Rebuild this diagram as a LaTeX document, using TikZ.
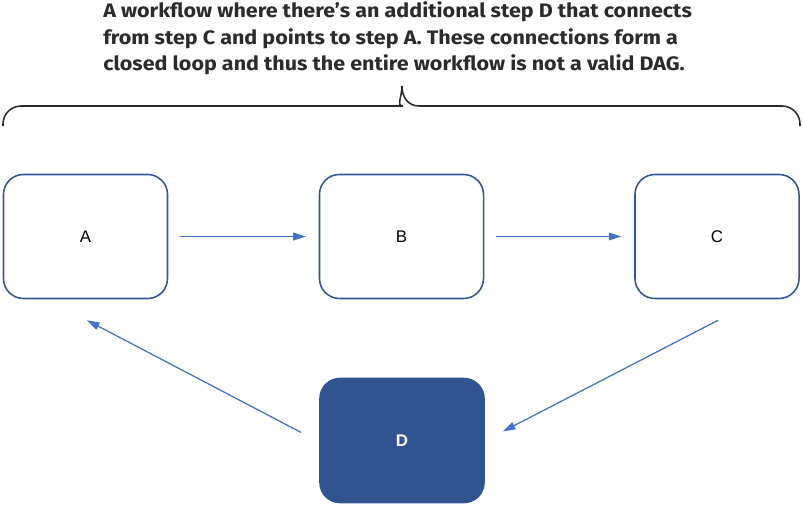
\documentclass[tikz,border=0pt]{standalone}
\usepackage{fontspec}
\setmainfont{Liberation Sans}
\newfontfamily\notefont[FakeStretch=1.1]{Fira Sans}
\usepackage{tikz}
\usetikzlibrary{arrows.meta}
\definecolor{stepline}{HTML}{2F5597}
\definecolor{flowblue}{HTML}{4472C4}
\definecolor{stepfill}{HTML}{30558E}
\definecolor{bracegray}{HTML}{2B2B2B}

\begin{document}
\begin{tikzpicture}[x=0.025cm,y=-0.025cm,
    stepbox/.style={draw=stepline,line width=1.1pt,rounded corners=0.5cm,minimum width=4.1cm,minimum height=3.1cm,font=\fontsize{12}{14}\selectfont},
    flow/.style={draw=flowblue,line width=0.9pt,-{Triangle[length=9pt,width=5.5pt]}},
    note/.style={align=left,inner sep=0pt,text=bracegray,font=\notefont\bfseries\fontsize{13.9}{18.9}\selectfont}]
    \useasboundingbox (0,0) rectangle (803,506);
    \node[note,anchor=north west] (title) at (103,1.5) {A workflow where there’s an additional step D that connects\\from step C and points to step A. These connections form a\\closed loop and thus the entire workflow is not a valid DAG.};
    \draw[bracegray,line width=1.1pt] (3,126) [rounded corners=0.45cm] |- (385,106) [sharp corners] .. controls (396,106) and (402,97) .. (402,86) .. controls (402,97) and (408,106) .. (419,106) [rounded corners=0.45cm] -| (800,126);
    \node[stepbox] (A) at (85.5,236.5) {A};
    \node[stepbox] (B) at (401.5,236.5) {B};
    \node[stepbox] (C) at (717,236.5) {C};
    \node[stepbox,fill=stepfill,text=white,font=\bfseries\fontsize{12}{14}\selectfont] (D) at (402,440.5) {D};
    \draw[flow,shorten <=0.3cm,shorten >=0.32cm] (A) -- (B);
    \draw[flow,shorten <=0.3cm,shorten >=0.32cm] (B) -- (C);
    \draw[flow] ([shift={(1,21)}]C.south) -- ([shift={(18,-9)}]D.east);
    \draw[flow] ([shift={(-18,-8)}]D.west) -- ([shift={(1.5,21)}]A.south);
\end{tikzpicture}
\end{document}
